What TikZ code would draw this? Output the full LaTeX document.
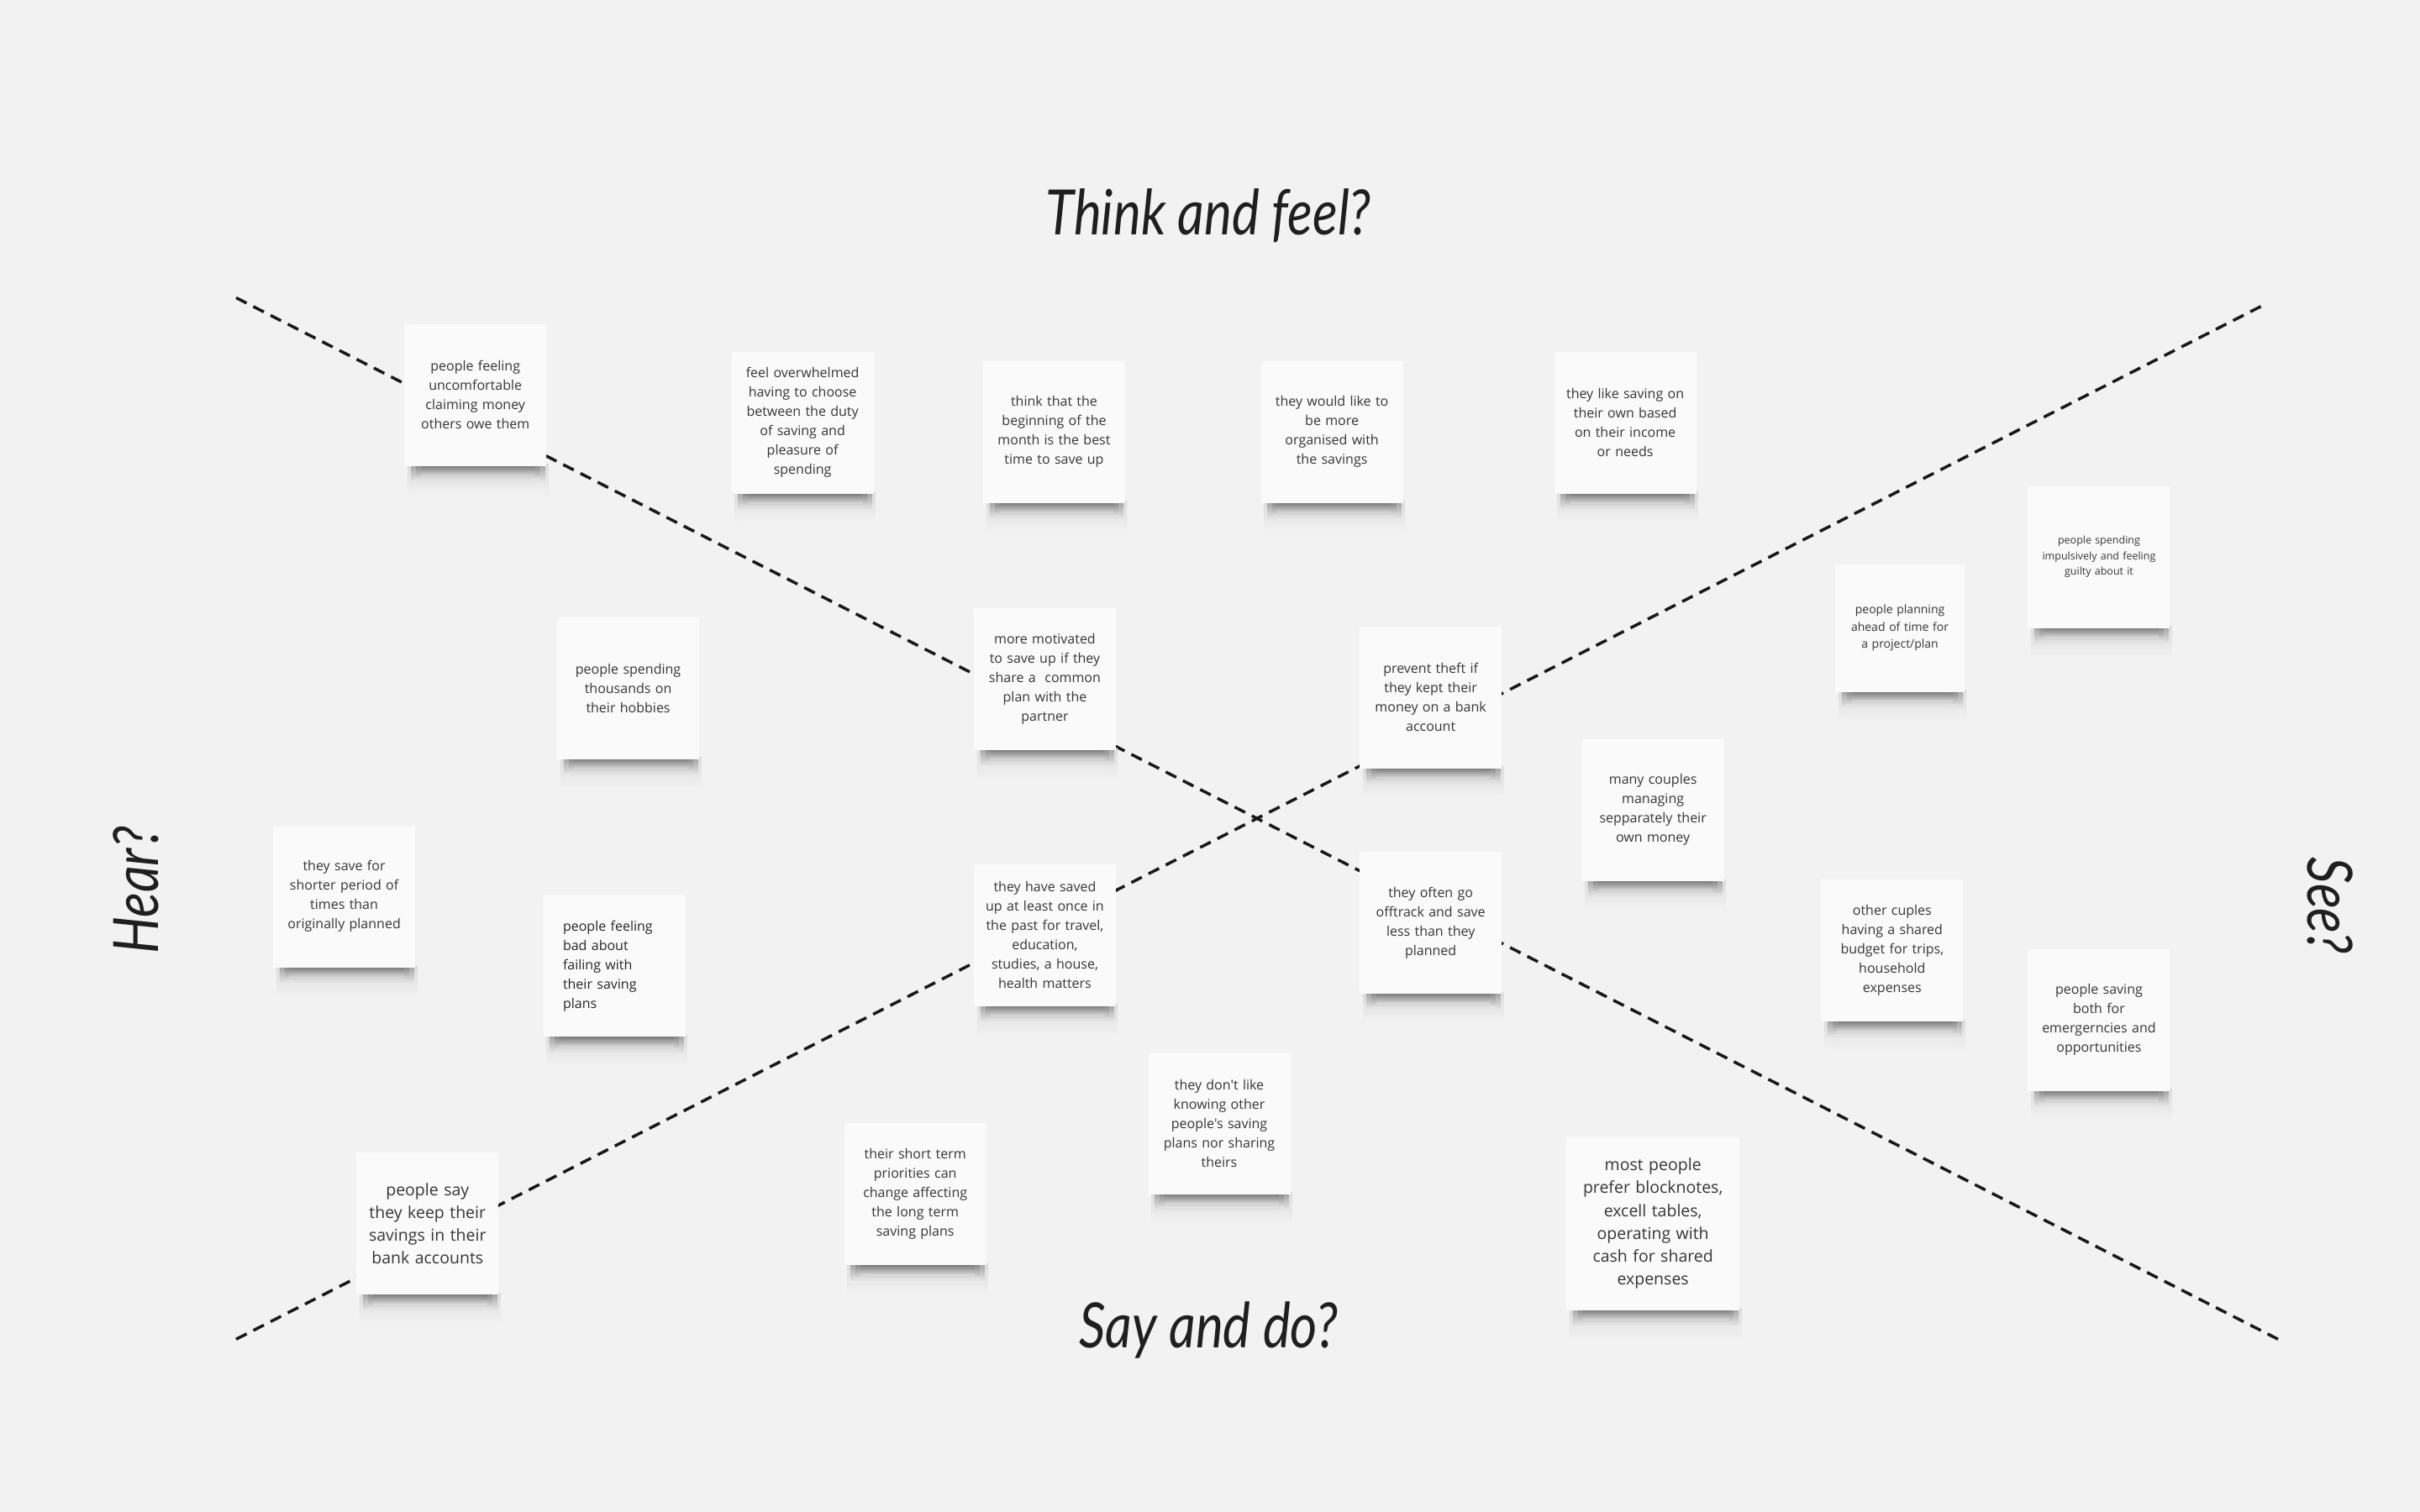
\documentclass[tikz,border=0pt]{standalone}
\usepackage{fontspec}
\newfontfamily\notefont{Open Sans}
\newfontfamily\handfont{Lato}
\definecolor{bgc}{HTML}{F2F2F2}
\definecolor{notefill}{HTML}{FAFAFA}
\definecolor{notetext}{HTML}{363636}
\pgfdeclarelayer{back}
\pgfsetlayers{back,main}
\begin{document}
\begin{tikzpicture}[x=1.8367pt,y=-1.8367pt,
  note/.style={fill=notefill, minimum width=169pt, minimum height=169pt,
    text width=158pt, align=center, inner sep=0pt, text=notetext,
    font=\notefont\fontsize{16}{23}\selectfont},
  smallnote/.style={note, font=\notefont\fontsize{12.5}{18.5}\selectfont},
  midnote/.style={note, minimum width=154pt, minimum height=152pt, text width=145pt,
    font=\notefont\fontsize{14}{20.5}\selectfont},
  bignote/.style={note, font=\notefont\fontsize{19.5}{27.2}\selectfont, text width=160pt},
  title/.style={font=\handfont\itshape\fontsize{62}{70}\selectfont, text=black!88, inner sep=0pt},
  divider/.style={line width=3.5pt, dash pattern=on 14pt off 9pt, draw=black!90}]
\useasboundingbox (0,0) rectangle (1568,980);

% notes
\node[note] (n1) at (308,256) {people feeling\\uncomfortable\\claiming money\\others owe them};
\node[note] (n2) at (520,274) {feel overwhelmed\\having to choose\\between the duty\\of saving and\\pleasure of\\spending};
\node[note] (n3) at (683,280) {think that the\\beginning of the\\month is the best\\time to save up};
\node[note] (n4) at (863,280) {they would like to\\be more\\organised with\\the savings};
\node[note] (n5) at (1053,274) {they like saving on\\their own based\\on their income\\or needs};
\node[smallnote] (n6) at (1360,361) {people spending\\impulsively and feeling\\guilty about it};
\node[midnote] (n7) at (1231,407) {people planning\\ahead of time for\\a project/plan};
\node[note] (n8) at (407,446) {people spending\\thousands on\\their hobbies};
\node[note] (n9) at (677,440) {more motivated\\to save up if they\\share a\ \ common\\plan with the\\partner};
\node[note] (n10) at (927,452) {prevent theft if\\they kept their\\money on a bank\\account};
\node[note] (n11) at (1071,525) {many couples\\managing\\sepparately their\\own money};
\node[note] (n12) at (223,581) {they save for\\shorter period of\\times than\\originally planned};
\node[note, align=left, text width=122pt, text=black!85] (n13) at (398,626) {people feeling\\bad about\\failing with\\their saving\\plans};
\node[note] (n14) at (677,606) {they have saved\\up at least once in\\the past for travel,\\education,\\studies, a house,\\health matters};
\node[note] (n15) at (927,598) {they often go\\offtrack and save\\less than they\\planned};
\node[note] (n16) at (1226,616) {other cuples\\having a shared\\budget for trips,\\household\\expenses};
\node[note] (n17) at (1360,661) {people saving\\both for\\emergerncies and\\opportunities};
\node[note] (n18) at (790,728) {they don't like\\knowing other\\people's saving\\plans nor sharing\\theirs};
\node[note] (n19) at (593,774) {their short term\\priorities can\\change affecting\\the long term\\saving plans};
\node[bignote] (n20) at (277,793) {people say\\they keep their\\savings in their\\bank accounts};
\node[bignote, minimum width=206pt, minimum height=206pt, text width=190pt] (n21) at (1071,793) {most people\\prefer blocknotes,\\excell tables,\\operating with\\cash for shared\\expenses};

% titles
\node[title] (think) at (783,140) {\scalebox{1}[1.2]{Think and feel?}};
\node[title] (say) at (783,862) {\scalebox{1}[1.2]{Say and do?}};
\node[title, rotate=90] (hear) at (88,577) {\scalebox{1}[1.2]{Hear?}};
\node[title, rotate=-90] (see) at (1510,587) {\scalebox{1}[1.2]{See?}};

% divider end points
\coordinate (tl) at (153,193);
\coordinate (br) at (1476,868);
\coordinate (bl) at (153,868);
\coordinate (tr) at (1468,197);

\begin{pgfonlayer}{back}
  \fill[bgc] (0,0) rectangle (1568,980);
  \draw[divider] (tl) -- (br);
  \draw[divider] (bl) -- (tr);
  \foreach \i in {1,...,21}{
    \shade[top color=black!16, bottom color=bgc, opacity=0.8]
      ([xshift=4pt,yshift=2pt]n\i.south west) rectangle ([xshift=2pt,yshift=-34pt]n\i.south east);
    \shade[top color=black!65, bottom color=bgc, opacity=0.45]
      ([xshift=8pt,yshift=2pt]n\i.south west) rectangle ([xshift=-2pt,yshift=-20pt]n\i.south east);
    \shade[top color=black!65, bottom color=bgc, opacity=0.45]
      ([xshift=14pt,yshift=2pt]n\i.south west) rectangle ([xshift=-8pt,yshift=-16pt]n\i.south east);
    \shade[top color=black!65, bottom color=bgc, opacity=0.45]
      ([xshift=20pt,yshift=2pt]n\i.south west) rectangle ([xshift=-14pt,yshift=-12pt]n\i.south east);
  }
\end{pgfonlayer}
\end{tikzpicture}
\end{document}
